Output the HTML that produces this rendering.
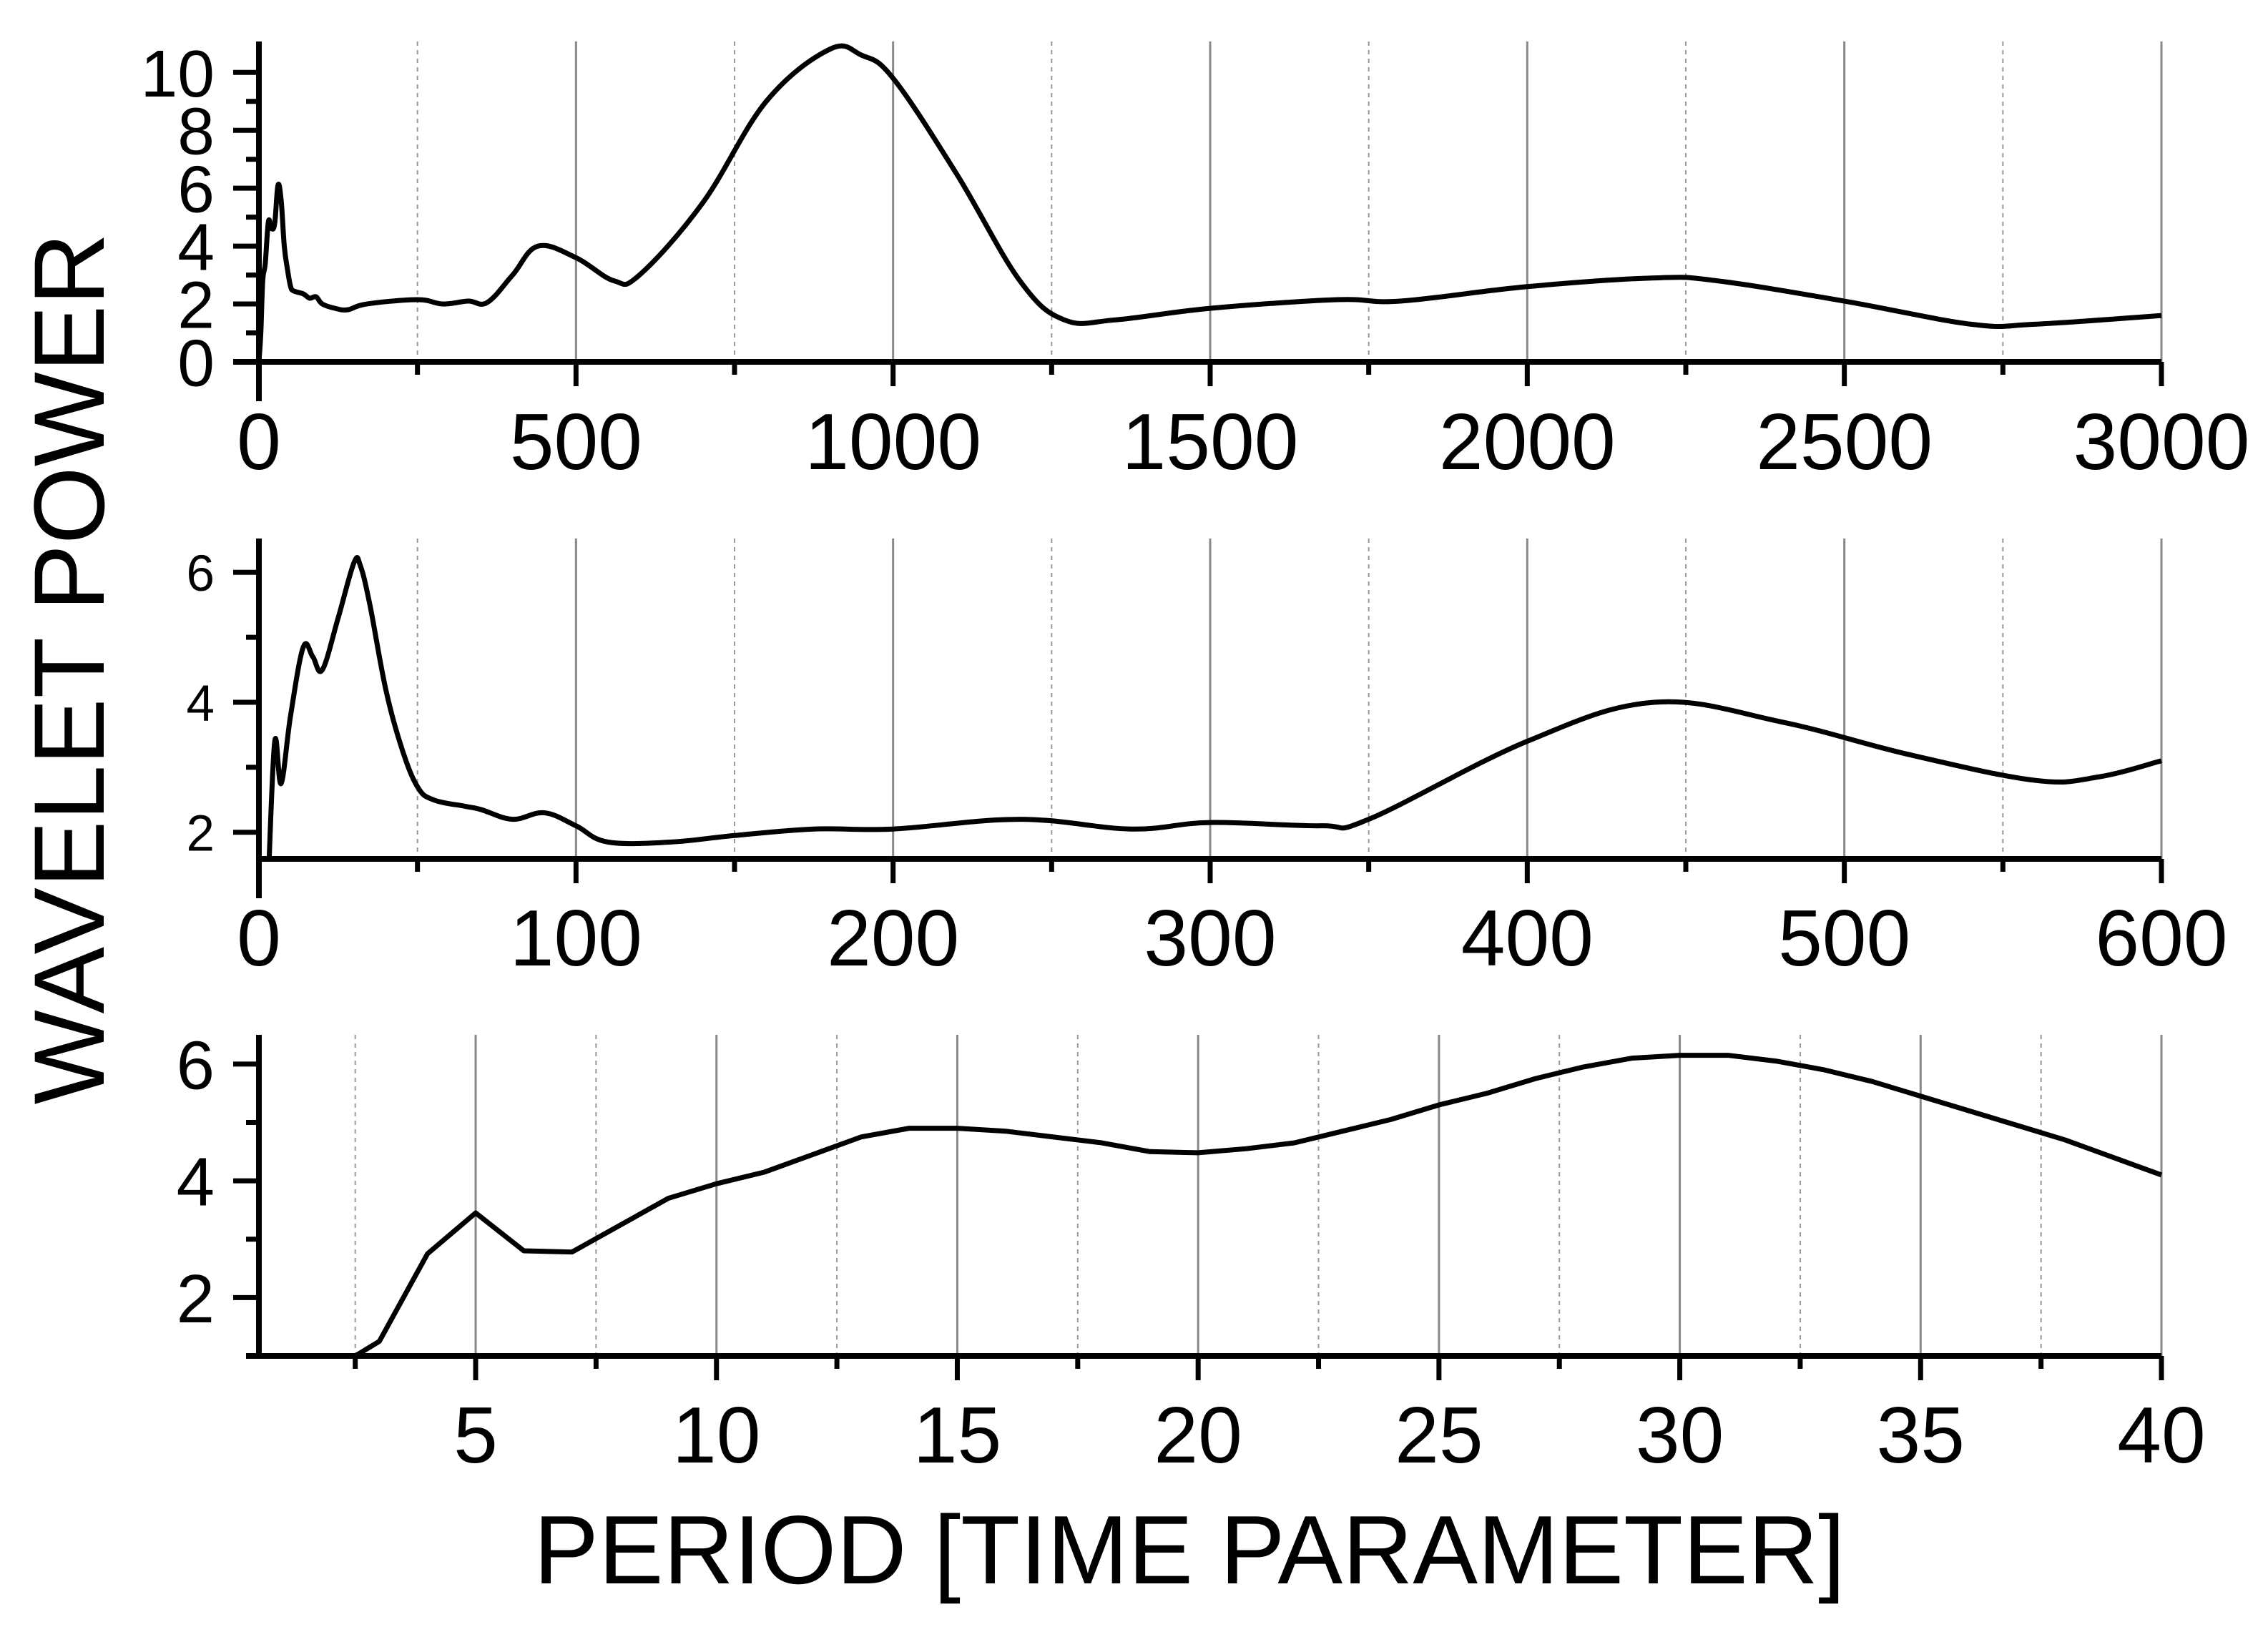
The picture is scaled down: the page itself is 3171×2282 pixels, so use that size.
<!DOCTYPE html>
<html><head><meta charset="utf-8">
<style>html,body{margin:0;padding:0;background:#fff}svg{display:block}</style>
</head><body>
<svg id="chart" xmlns="http://www.w3.org/2000/svg" width="3171" height="2282" viewBox="0 0 3171 2282">
<rect width="3171" height="2282" fill="#fff"/>
<text x="0" y="0" transform="translate(145,935) rotate(-90)" text-anchor="middle" font-family="Liberation Sans, sans-serif" font-size="140">WAVELET POWER</text>
<text x="1663" y="2214" text-anchor="middle" font-family="Liberation Sans, sans-serif" font-size="136">PERIOD [TIME PARAMETER]</text>
</svg>
<script>
const p1Periods=[0,3,6,10,15,20,25,30,35,40,45,50,55,70,80,90,100,120,140,170,250,290,330,360,400,440,500,560,600,700,800,900,950,1000,1100,1200,1270,1350,1500,1700,1800,2000,2200,2300,2500,2700,2800,3000];
const p1Power=[0,1.0,2.8,3.4,4.85,4.6,4.8,6.1,5.6,4.0,3.2,2.6,2.45,2.35,2.2,2.25,2.0,1.85,1.8,2.0,2.15,2.0,2.1,2.05,3.0,4.0,3.6,2.8,3.0,5.5,9.0,10.8,10.6,9.8,6.5,2.8,1.45,1.45,1.85,2.15,2.1,2.6,2.9,2.8,2.1,1.3,1.3,1.6];
const p2Periods=[3,5,7,10,14,17,20,25,30,32,35,40,45,50,55,65,70,80,90,100,110,130,150,175,200,240,275,300,335,350,400,440,480,520,560,580,600];
const p2Power=[1.3,3.4,2.75,3.8,4.85,4.7,4.5,5.3,6.15,6.1,5.5,4.2,3.3,2.7,2.5,2.4,2.35,2.2,2.3,2.1,1.85,1.85,1.95,2.05,2.05,2.2,2.05,2.15,2.1,2.2,3.4,4.0,3.7,3.2,2.8,2.85,3.1];
const p3Periods=[2.5,3,4,5,6,7,9,10,11,12,13,14,15,16,17,18,19,20,21,22,23,24,25,26,27,28,29,30,31,32,33,34,35,36,37,38,39,40];
const p3Power=[1.0,1.25,2.75,3.45,2.8,2.78,3.7,3.95,4.15,4.45,4.75,4.9,4.9,4.85,4.75,4.65,4.5,4.48,4.55,4.65,4.85,5.05,5.3,5.5,5.75,5.95,6.1,6.15,6.15,6.05,5.9,5.7,5.45,5.2,4.95,4.7,4.4,4.1];
const p1XTicks=[0,500,1000,1500,2000,2500,3000];
const p1YTicks=[0,2,4,6,8,10];
const p2XTicks=[0,100,200,300,400,500,600];
const p2YTicks=[2,4,6];
const p3XTicks=[5,10,15,20,25,30,35,40];
const p3YTicks=[2,4,6];

const NS='http://www.w3.org/2000/svg';
const svg=document.getElementById('chart');
function mk(tag,attrs,parent){const e=document.createElementNS(NS,tag);for(const k in attrs)e.setAttribute(k,attrs[k]);(parent||svg).appendChild(e);return e;}

function panel(cfg){
  const {id,x0,x1,xmin,xmax,yb,yt,ymin,ymax,xTicks,xMinor,yTicks,yMinor,yfs,xs,ys,smooth,labelY,yAxisBelow,xAxisLeft}=cfg;
  const sx=v=>x0+(v-xmin)/(xmax-xmin)*(x1-x0);
  const sy=v=>yb-(v-ymin)/(ymax-ymin)*(yb-yt);
  const g=mk('g',{});
  
  
  xMinor.forEach(v=>{const l=mk('line',{x1:sx(v),x2:sx(v),y1:yt,y2:yb,stroke:'#999','stroke-width':2,'stroke-dasharray':'6,6'},g);
    
    });
  xTicks.forEach(v=>{if(v===xmin)return;const l=mk('line',{x1:sx(v),x2:sx(v),y1:yt,y2:yb,stroke:'#888','stroke-width':3},g);
    
    });
  const cid=id+'-clip';
  const cp=mk('clipPath',{id:cid},g);mk('rect',{x:x0,y:yt-40,width:x1-x0+10,height:yb-yt+40},cp);
  const pts=xs.map((v,i)=>[sx(v),sy(ys[i])]);
  let d='M'+pts[0][0]+','+pts[0][1];
  if(smooth){
    for(let i=0;i<pts.length-1;i++){
      const p0=pts[Math.max(0,i-1)],p1=pts[i],p2=pts[i+1],p3=pts[Math.min(pts.length-1,i+2)];
      const t=0.18;
      const c1=[p1[0]+(p2[0]-p0[0])*t,p1[1]+(p2[1]-p0[1])*t];
      const c2=[p2[0]-(p3[0]-p1[0])*t,p2[1]-(p3[1]-p1[1])*t];
      d+=' C'+c1[0]+','+c1[1]+' '+c2[0]+','+c2[1]+' '+p2[0]+','+p2[1];
    }
  } else pts.slice(1).forEach(p=>d+=' L'+p[0]+','+p[1]);
  const path=mk('path',{d:d,fill:'none',stroke:'#000','stroke-width':7,'stroke-linejoin':'round','clip-path':'url(#'+cid+')'},g);
  
  
  const ya=mk('line',{x1:x0,x2:x0,y1:yt,y2:yb+yAxisBelow,stroke:'#000','stroke-width':8},g);
  
  
  const xa=mk('line',{x1:x0-xAxisLeft,x2:x1,y1:yb,y2:yb,stroke:'#000','stroke-width':8},g);
  
  
  xTicks.forEach(v=>{mk('line',{x1:sx(v),x2:sx(v),y1:yb,y2:yb+34,stroke:'#000','stroke-width':7},g);
    const t=mk('text',{x:sx(v),y:labelY,'text-anchor':'middle','font-family':'Liberation Sans, sans-serif','font-size':111},g);
    t.textContent=v;
    
    });
  xMinor.forEach(v=>mk('line',{x1:sx(v),x2:sx(v),y1:yb,y2:yb+18,stroke:'#000','stroke-width':7},g));
  yTicks.forEach(v=>{mk('line',{x1:x0-36,x2:x0,y1:sy(v),y2:sy(v),stroke:'#000','stroke-width':7},g);
    const t=mk('text',{x:x0-62,y:sy(v)+yfs*0.36,'text-anchor':'end','font-family':'Liberation Sans, sans-serif','font-size':yfs},g);
    t.textContent=v;
    
    });
  yMinor.forEach(v=>mk('line',{x1:x0-18,x2:x0,y1:sy(v),y2:sy(v),stroke:'#000','stroke-width':7},g));
}
panel({id:'top',x0:362,x1:3022,xmin:0,xmax:3000,yb:506,yt:58,ymin:0,ymax:11.07,xTicks:p1XTicks,xMinor:[250,750,1250,1750,2250,2750],yTicks:p1YTicks,yMinor:[1,3,5,7,9],yfs:93,xs:p1Periods,ys:p1Power,smooth:true,labelY:656,yAxisBelow:55,xAxisLeft:36});
panel({id:'middle',x0:362,x1:3022,xmin:0,xmax:600,yb:1201,yt:753,ymin:1.59,ymax:6.52,xTicks:p2XTicks,xMinor:[50,150,250,350,450,550],yTicks:p2YTicks,yMinor:[3,5],yfs:71,xs:p2Periods,ys:p2Power,smooth:true,labelY:1350,yAxisBelow:55,xAxisLeft:0});
panel({id:'bottom',x0:362,x1:3022,xmin:0.5,xmax:40,yb:1896,yt:1447,ymin:1.0,ymax:6.5,xTicks:p3XTicks,xMinor:[2.5,7.5,12.5,17.5,22.5,27.5,32.5,37.5],yTicks:p3YTicks,yMinor:[1,3,5],yfs:96,xs:p3Periods,ys:p3Power,smooth:false,labelY:2045,yAxisBelow:0,xAxisLeft:18});
</script>
</body></html>
